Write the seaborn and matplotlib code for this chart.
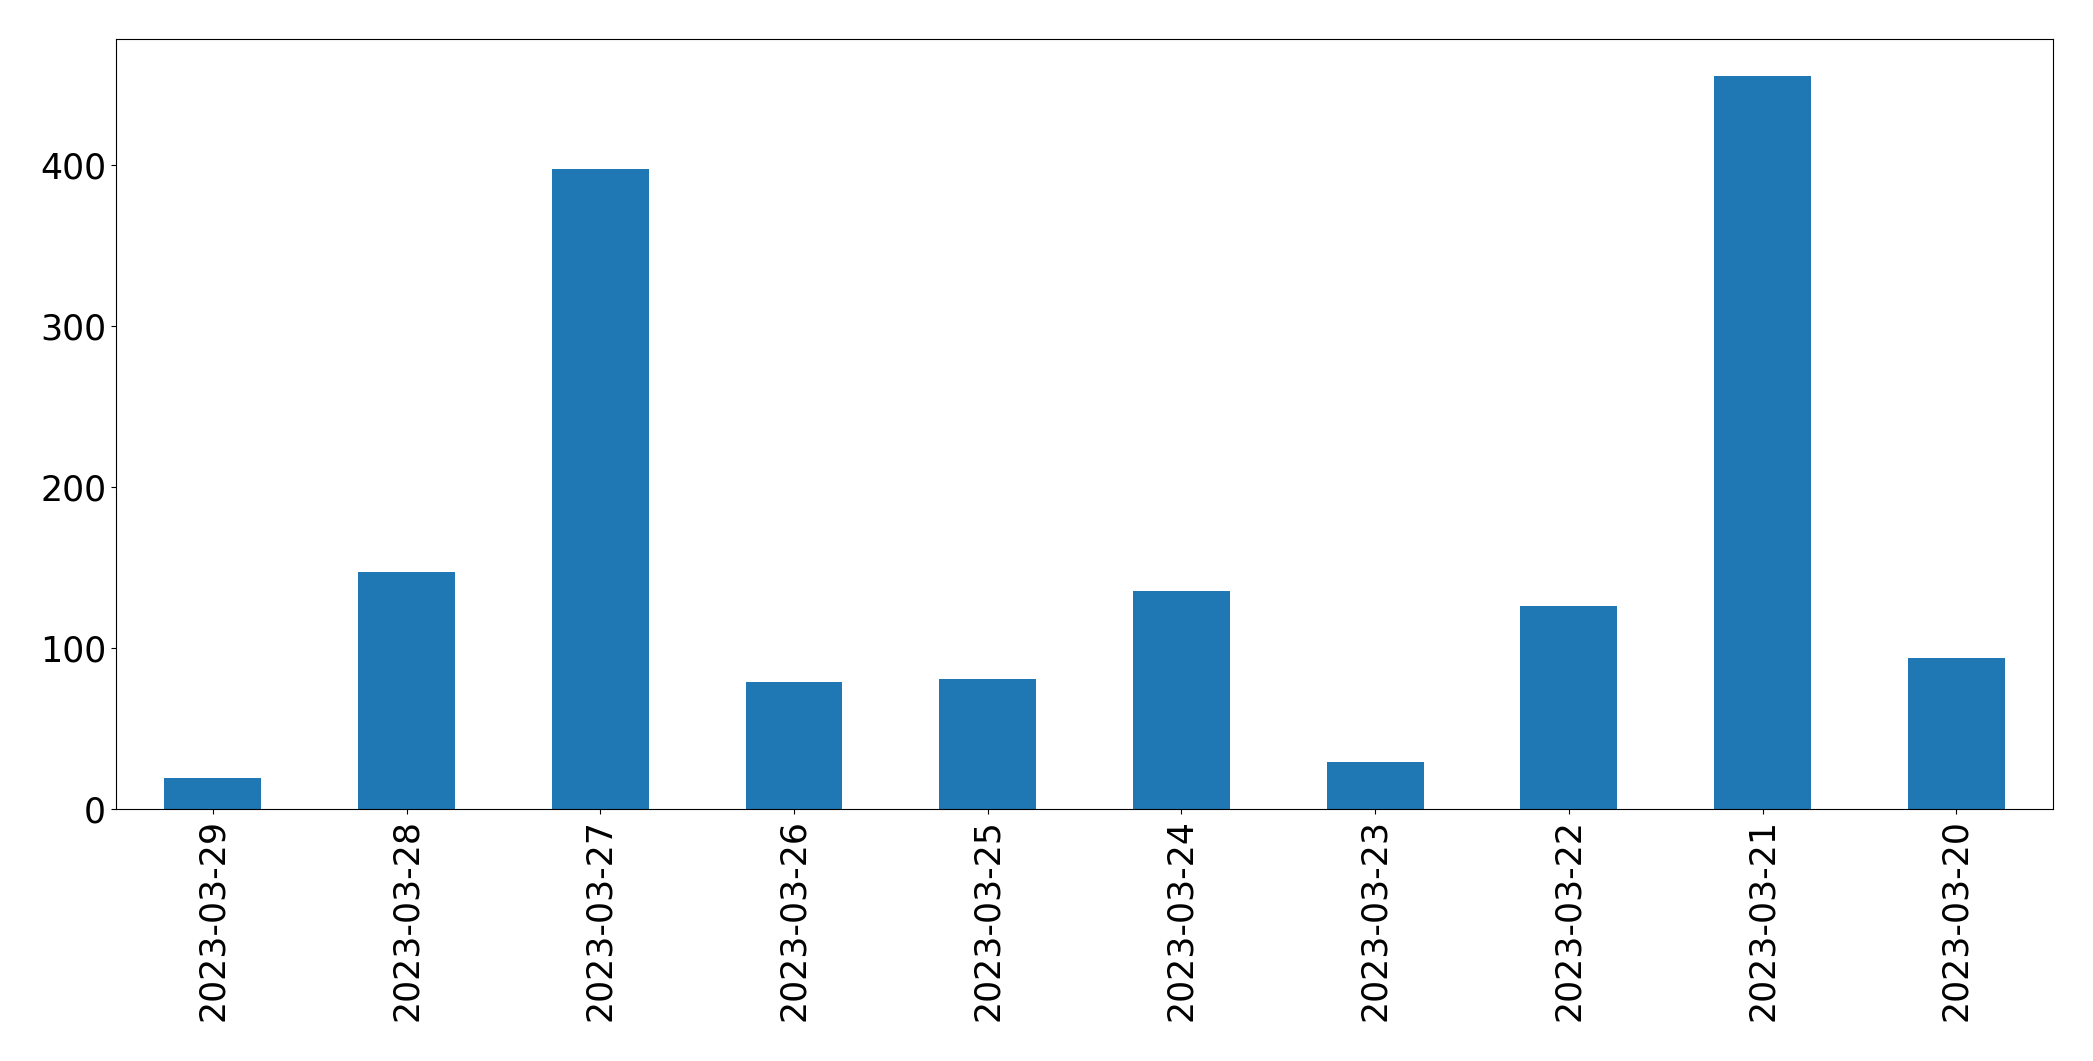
import matplotlib
matplotlib.use("Agg")
import matplotlib.pyplot as plt
import seaborn as sns
import pandas as pd

dates = ["2023-03-29", "2023-03-28", "2023-03-27", "2023-03-26", "2023-03-25",
         "2023-03-24", "2023-03-23", "2023-03-22", "2023-03-21", "2023-03-20"]
counts = [19, 147, 397, 79, 81, 135, 29, 126, 455, 94]

df = pd.DataFrame({"date": dates, "count": counts})

fig, ax = plt.subplots(figsize=(20.93, 10.61), dpi=100)
sns.barplot(data=df, x="date", y="count", order=dates, color="#1f77b4",
            saturation=1, width=0.5, linewidth=0, ax=ax)
ax.set_xlim(-0.5, len(dates) - 0.5)
ax.set_ylim(0, max(counts) * 1.05)
ax.set_xlabel("")
ax.set_ylabel("")
ax.tick_params(axis="both", labelsize=25)
ax.tick_params(axis="x", rotation=90)
ax.set_yticks([0, 100, 200, 300, 400])
for s in ax.spines.values():
    s.set_color("black")
fig.subplots_adjust(left=0.0554, right=0.981, top=0.963, bottom=0.2375)
fig.savefig("out.png", dpi=100)
